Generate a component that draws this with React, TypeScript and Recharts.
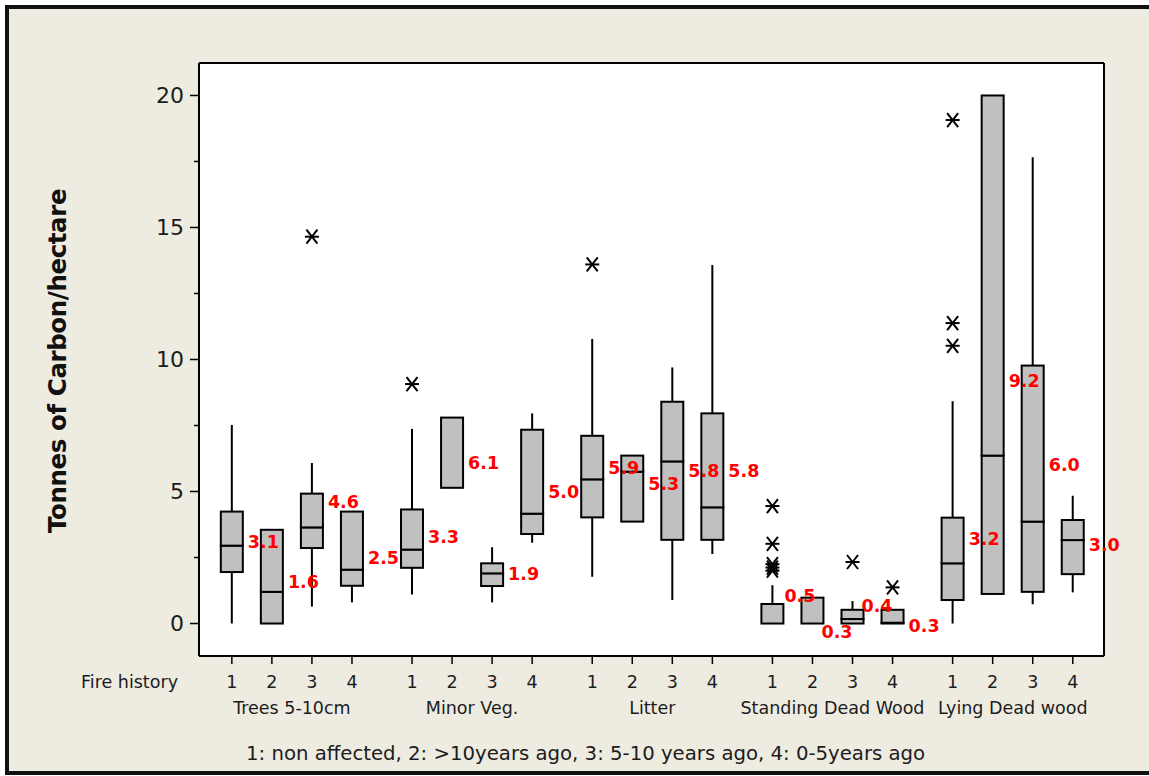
import React from 'react';
import { ComposedChart, Bar, Scatter, XAxis, YAxis, CartesianGrid } from 'recharts';

const CATEGORIES = ['Trees 5-10cm', 'Minor Veg.', 'Litter', 'Standing Dead Wood', 'Lying Dead wood'];
const FIRE_HISTORY = ['1', '2', '3', '4'];

const WHISKER_LOW = [0, 0, 0.64, 0.8, 1.1, 5.14, 0.8, 3.06, 1.77, 3.86, 0.89, 2.63, 0, 0, 0, 0, 0, 1.12, 0.73, 1.18];
const Q1 = [1.95, 0, 2.86, 1.43, 2.11, 5.14, 1.42, 3.39, 4.02, 3.86, 3.17, 3.17, 0, 0, 0, 0, 0.89, 1.12, 1.2, 1.87];
const MEDIAN = [2.95, 1.2, 3.64, 2.04, 2.8, 7.8, 1.9, 4.16, 5.46, 5.75, 6.14, 4.4, 0, 0, 0.17, 0.03, 2.28, 6.36, 3.86, 3.16];
const Q3 = [4.24, 3.55, 4.92, 4.24, 4.32, 7.8, 2.28, 7.34, 7.11, 6.36, 8.4, 7.96, 0.74, 0.98, 0.52, 0.52, 4.01, 20.0, 9.77, 3.92];
const WHISKER_HIGH = [7.52, 3.55, 6.08, 4.24, 7.37, 7.8, 2.89, 7.96, 10.78, 6.36, 9.7, 13.58, 1.45, 0.98, 0.85, 0.52, 8.42, 20.0, 17.66, 4.84];
const MEANS = [3.1, 1.6, 4.6, 2.5, 3.3, 6.1, 1.9, 5.0, 5.9, 5.3, 5.8, 5.8, 0.5, 0.3, 0.4, 0.3, 3.2, 9.2, 6.0, 3.0];

const OUTLIER_BOX = [2, 4, 8, 12, 12, 12, 12, 12, 14, 15, 16, 16, 16];
const OUTLIER_VALUE = [14.65, 9.07, 13.6, 4.45, 3.02, 2.25, 2.12, 2.0, 2.33, 1.37, 19.07, 11.38, 10.52];

const Y_TICKS = [0, 2.5, 5, 7.5, 10, 12.5, 15, 17.5, 20];
const CAPTION = '1: non affected, 2: >10years ago, 3: 5-10 years ago, 4: 0-5years ago';

// label nudges (pixels) for the crowded small boxes
const LABEL_DX = [0, 0, 0, 0, 0, 0, 0, 0, 0, 0, 0, 0, -4, -7, -7, 0, 0, 0, 0, 0];
const LABEL_DY = [0, 0, 0, 0, 0, 0, 0, 0, 0, 0, 0, 0, -15, 16, -7, 10, 0, 0, 0, 0];

const GROUP_STEP = FIRE_HISTORY.length + 0.5;
const posOf = (idx: number) => Math.floor(idx / FIRE_HISTORY.length) * GROUP_STEP + (idx % FIRE_HISTORY.length);

const rows = MEANS.map((m, idx) => ({
  idx,
  x: posOf(idx),
  whisker: [WHISKER_LOW[idx], WHISKER_HIGH[idx]],
  lower: [Q1[idx], MEDIAN[idx]],
  upper: [MEDIAN[idx], Q3[idx]],
  mean: m,
}));

const outlierRows = OUTLIER_BOX.map((b, i) => ({ x: posOf(b), y: OUTLIER_VALUE[i] }));

const boxTicks = rows.map((r) => r.x);
const groupTicks = CATEGORIES.map((_, g) => g * GROUP_STEP + (FIRE_HISTORY.length - 1) / 2);
const groupRows = groupTicks.map((x) => ({ x, y: 0 }));
const X_DOMAIN = [-0.82, 21.78];
const Y_DOMAIN = [-1.23, 21.23];

const FONT = 'DejaVu Sans, Verdana, sans-serif';
const TEXT = '#1c1c1c';

const WhiskerShape = (p: any) => {
  if (p.height == null) return null;
  const cx = p.x + p.width / 2;
  return <line x1={cx} x2={cx} y1={p.y} y2={p.y + p.height} stroke="#000" strokeWidth={2} />;
};

const BoxShape = (p: any) => {
  if (p.height == null) return null;
  const y = Math.min(p.y, p.y + p.height);
  const h = Math.abs(p.height);
  return <rect x={p.x} y={y} width={p.width} height={h} fill="#C0C0C0" stroke="#000" strokeWidth={2} />;
};

const MeanLabel = (p: any) => {
  const i = p.payload.idx;
  return (
    <text
      x={p.cx + 16 + LABEL_DX[i]}
      y={p.cy + LABEL_DY[i]}
      dy="0.36em"
      fill="#FF0000"
      fontWeight="bold"
      fontSize={17.5}
      fontFamily={FONT}
    >
      {p.payload.mean.toFixed(1)}
    </text>
  );
};

const Star = (p: any) => {
  const { cx, cy } = p;
  return (
    <g stroke="#000" strokeWidth={2}>
      <line x1={cx - 7} x2={cx + 7} y1={cy} y2={cy} />
      <line x1={cx - 5.5} y1={cy - 7} x2={cx + 5.5} y2={cy + 7} />
      <line x1={cx - 5.5} y1={cy + 7} x2={cx + 5.5} y2={cy - 7} />
    </g>
  );
};

const Nothing = () => <g />;

const YTick = (p: any) => {
  const { x, y, payload } = p;
  const major = payload.value % 5 === 0;
  const end = x + 15;
  return (
    <g>
      <line x1={end - (major ? 9 : 5)} x2={end} y1={y} y2={y} stroke="#000" strokeWidth={1.5} />
      {major && (
        <text x={x} y={y} dy="0.36em" textAnchor="end" fontSize={22} fontFamily={FONT} fill={TEXT}>
          {payload.value}
        </text>
      )}
    </g>
  );
};

export default function App() {
  return (
    <div style={{ position: 'absolute', left: 0, top: 0, width: 1149, height: 776, overflow: 'hidden', background: '#fff' }}>
      <div
        style={{
          position: 'absolute',
          left: 5,
          top: 5,
          width: 1170,
          height: 762,
          background: '#EEEBE1',
          borderLeft: '4px solid #111',
          borderTop: '4px solid #111',
          borderBottom: '4px solid #111',
        }}
      />
      <div style={{ position: 'absolute', left: 0, top: 0 }}>
        <ComposedChart
          width={1149}
          height={776}
          data={rows}
          margin={{ top: 63, right: 45, bottom: 50, left: 0 }}
          barSize={22}
          barGap={-22}
        >
          <CartesianGrid
            fill="#FFFFFF"
            fillOpacity={1}
            stroke="#000"
            strokeWidth={2}
            horizontalCoordinatesGenerator={(a: any) => {
              const o = a.offset;
              const h = o.height ?? a.height - o.top - o.bottom;
              return [o.top, o.top + h];
            }}
            verticalCoordinatesGenerator={(a: any) => {
              const o = a.offset;
              const w = o.width ?? a.width - o.left - o.right;
              return [o.left, o.left + w];
            }}
          />
          <XAxis
            dataKey="x"
            type="number"
            domain={X_DOMAIN}
            ticks={boxTicks}
            interval={0}
            tickFormatter={(v: number) => {
              const i = boxTicks.indexOf(v);
              return FIRE_HISTORY[i % FIRE_HISTORY.length];
            }}
            height={40}
            tickSize={8}
            tickMargin={12}
            axisLine={{ stroke: '#000', strokeWidth: 2 }}
            tickLine={{ stroke: '#000', strokeWidth: 1.5 }}
            tick={{ fill: TEXT, fontSize: 17.5, fontFamily: FONT }}
            label={(props: any) => {
              const vb = props.viewBox;
              return (
                <text x={vb.x - 21} y={vb.y + 32.4} textAnchor="end" fontSize={17.5} fontFamily={FONT} fill={TEXT}>
                  Fire history
                </text>
              );
            }}
          />
          <XAxis
            xAxisId="g"
            dataKey="x"
            type="number"
            domain={X_DOMAIN}
            ticks={groupTicks}
            interval={0}
            tickFormatter={(v: number) => CATEGORIES[groupTicks.indexOf(v)]}
            height={30}
            tickSize={0}
            tickMargin={6}
            axisLine={false}
            tickLine={false}
            tick={{ fill: TEXT, fontSize: 17.5, fontFamily: FONT }}
            label={(props: any) => {
              const vb = props.viewBox;
              return (
                <text x={vb.x + 47} y={vb.y + 64} textAnchor="start" fontSize={19.7} fontFamily={FONT} fill={TEXT}>
                  {CAPTION}
                </text>
              );
            }}
          />
          <YAxis
            type="number"
            domain={Y_DOMAIN}
            ticks={Y_TICKS}
            interval={0}
            width={199}
            tickSize={9}
            tickMargin={6}
            tickLine={false}
            axisLine={{ stroke: '#000', strokeWidth: 2 }}
            tick={YTick}
            label={(props: any) => {
              const vb = props.viewBox;
              const cx = vb.x + 66;
              const cy = vb.y + vb.height / 2 + 1.5;
              return (
                <text
                  x={cx}
                  y={cy}
                  transform={`rotate(-90 ${cx} ${cy})`}
                  textAnchor="middle"
                  fontSize={24.5}
                  letterSpacing={-0.4}
                  fontWeight="bold"
                  fontFamily={FONT}
                  fill="#111"
                >
                  Tonnes of Carbon/hectare
                </text>
              );
            }}
          />
          <Bar dataKey="whisker" shape={WhiskerShape} isAnimationActive={false} legendType="none" />
          <Bar dataKey="lower" shape={BoxShape} isAnimationActive={false} legendType="none" />
          <Bar dataKey="upper" shape={BoxShape} isAnimationActive={false} legendType="none" />
          <Scatter data={outlierRows} dataKey="y" shape={Star} isAnimationActive={false} legendType="none" />
          <Scatter data={rows} dataKey="mean" shape={MeanLabel} isAnimationActive={false} legendType="none" />
          <Scatter xAxisId="g" data={groupRows} dataKey="y" shape={Nothing} isAnimationActive={false} legendType="none" />
        </ComposedChart>
      </div>
    </div>
  );
}
